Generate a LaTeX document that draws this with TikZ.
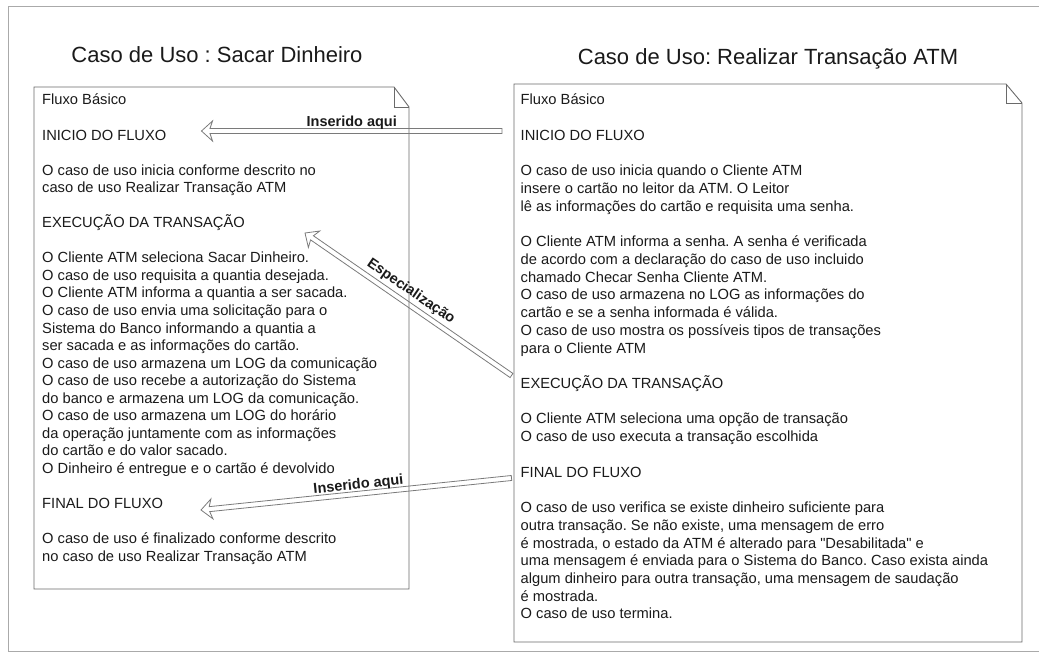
\documentclass[tikz,border=0pt]{standalone}
\usepackage{fontspec}
\setmainfont{Liberation Sans}
\usetikzlibrary{calc}
\frenchspacing
\newcommand\straightdq{\XeTeXglyph\the\XeTeXcharglyph"22\relax}
\definecolor{ink}{HTML}{1A1A1A}
\definecolor{edgegray}{HTML}{6A6A6A}
\definecolor{framegray}{HTML}{AAAAAA}
\definecolor{arrowgray}{HTML}{7A7A7A}
\tikzset{
  docshape/.style={draw=edgegray, line width=0.9pt, line join=miter},
  frameline/.style={draw=framegray, line width=0.8pt},
  bodytext/.style={anchor=base west, inner sep=0pt, text=ink, font=\fontsize{14.7}{17.5}\selectfont},
  titletext/.style={anchor=base, inner sep=0pt, text=ink, font=\fontsize{22}{26}\selectfont},
  arrowlabel/.style={inner sep=0pt, text=ink, font=\bfseries\fontsize{14.5}{17}\selectfont},
  hollow/.style={draw=arrowgray, line width=0.8pt, line join=miter},
}
% #1 = tail, #2 = tip
\newcommand\hollowarrow[2]{%
  \draw[hollow] (#2)
    -- ($(#2)!11pt!(#1)!10pt!90:(#1)$)
    -- ($(#2)!8.5pt!(#1)!2.5pt!90:(#1)$)
    -- ($(#1)!2.5pt!-90:(#2)$)
    -- ($(#1)!2.5pt!90:(#2)$)
    -- ($(#2)!8.5pt!(#1)!2.5pt!-90:(#1)$)
    -- ($(#2)!11pt!(#1)!10pt!-90:(#1)$)
    -- cycle;%
}
\begin{document}
\begin{tikzpicture}[x=1pt,y=-1pt]
\useasboundingbox (0,0) rectangle (1039,655);
% outer frame
\draw[frameline] (1039,6) -- (8,6) -- (8,651) -- (1039,651);

% titles
\node[titletext] (titleL) at (217,62.5) {Caso de Uso : Sacar Dinheiro};
\node[titletext] (titleR) at (768,65) {Caso de Uso: Realizar Transação ATM};

% left document
\draw[docshape] (34,87) -- (394,87) -- (409,107) -- (409,589) -- (34,589) -- cycle;
\draw[docshape] (394,87) -- (394,107) -- (409,107);
% right document
\draw[docshape] (514,84) -- (1006,84) -- (1022,103) -- (1022,642) -- (514,642) -- cycle;
\draw[docshape] (1006,84) -- (1006,103) -- (1022,103);

% left text
\foreach \i/\t in {
  0/{Fluxo Básico},
  2/{INICIO DO FLUXO},
  4/{O caso de uso inicia conforme descrito no},
  5/{caso de uso Realizar Transação ATM},
  7/{EXECUÇÃO DA TRANSAÇÃO},
  9/{O Cliente ATM seleciona Sacar Dinheiro.},
  10/{O caso de uso requisita a quantia desejada.},
  11/{O Cliente ATM informa a quantia a ser sacada.},
  12/{O caso de uso envia uma solicitação para o},
  13/{Sistema do Banco informando a quantia a},
  14/{ser sacada e as informações do cartão.},
  15/{O caso de uso armazena um LOG da comunicação},
  16/{O caso de uso recebe a autorização do Sistema},
  17/{do banco e armazena um LOG da comunicação.},
  18/{O caso de uso armazena um LOG do horário},
  19/{da operação juntamente com as informações},
  20/{do cartão e do valor sacado.},
  21/{O Dinheiro é entregue e o cartão é devolvido},
  23/{FINAL DO FLUXO},
  25/{O caso de uso é finalizado conforme descrito},
  26/{no caso de uso Realizar Transação ATM}}
  \node[bodytext] (L\i) at (42,{105+17.54*\i}) {\t};

% right text
\foreach \i/\t in {
  0/{Fluxo Básico},
  2/{INICIO DO FLUXO},
  4/{O caso de uso inicia quando o Cliente ATM},
  5/{insere o cartão no leitor da ATM. O Leitor},
  6/{lê as informações do cartão e requisita uma senha.},
  8/{O Cliente ATM informa a senha. A senha é verificada},
  9/{de acordo com a declaração do caso de uso incluido},
  10/{chamado Checar Senha Cliente ATM.},
  11/{O caso de uso armazena no LOG as informações do},
  12/{cartão e se a senha informada é válida.},
  13/{O caso de uso mostra os possíveis tipos de transações},
  14/{para o Cliente ATM},
  16/{EXECUÇÃO DA TRANSAÇÃO},
  18/{O Cliente ATM seleciona uma opção de transação},
  19/{O caso de uso executa a transação escolhida},
  21/{FINAL DO FLUXO},
  23/{O caso de uso verifica se existe dinheiro suficiente para},
  24/{outra transação. Se não existe, uma mensagem de erro},
  25/{é mostrada, o estado da ATM é alterado para \straightdq Desabilitada\straightdq{} e},
  26/{uma mensagem é enviada para o Sistema do Banco. Caso exista ainda},
  27/{algum dinheiro para outra transação, uma mensagem de saudação},
  28/{é mostrada.},
  29/{O caso de uso termina.}}
  \node[bodytext] (R\i) at (520.5,{105+17.72*\i}) {\t};

% arrows
\coordinate (insAtip) at (201.5,131);
\coordinate (insAtail) at (502,131);
\coordinate (esptip) at (305,233);
\coordinate (esptail) at (511.5,375.5);
\coordinate (insBtip) at (201,510);
\coordinate (insBtail) at (511.5,478);

\hollowarrow{insAtail}{insAtip}
\hollowarrow{esptail}{esptip}
\hollowarrow{insBtail}{insBtip}

\path (insAtip) -- (insAtail) node[arrowlabel, pos=0.5, sloped, above=1.5pt] (lblA) {Inserido aqui};
\path (esptip) -- (esptail) node[arrowlabel, pos=0.48, sloped, above=5pt] (lblE) {Especialização};
\path (insBtip) -- (insBtail) node[arrowlabel, pos=0.51, sloped, above=1.5pt] (lblB) {Inserido aqui};
\end{tikzpicture}
\end{document}
